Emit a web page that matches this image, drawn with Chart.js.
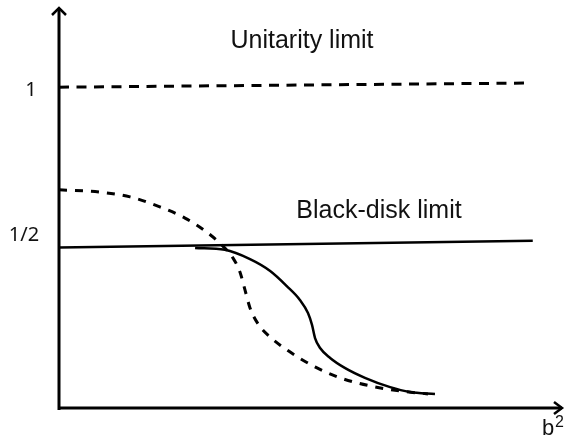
<!DOCTYPE html>
<html>
<head>
<meta charset="utf-8">
<script src="https://cdn.jsdelivr.net/npm/chart.js@4"></script>
<style>
  html, body { margin: 0; padding: 0; background: #fff; }
  #wrap { width: 566px; height: 438px; position: relative; }
</style>
</head>
<body>
<div id="wrap"><canvas id="limitChart"></canvas></div>
<script>
// 축 범위 (b^2 임의 단위, 진폭)
const xMax = 10;
const yMax = 1.25;

// 유니타리티 한계 (점선, y = 1)
const unitarityX = [0, 9.31];
const unitarityY = [1.0, 1.013];

// 블랙디스크 한계 (실선, y = 1/2)
const blackDiskX = [0, 9.40];
const blackDiskY = [0.5, 0.521];

// 점선 곡선
const dashedCurveX = [0, 0.81, 1.41, 2.00, 2.50, 2.90, 3.23, 3.45, 3.59, 3.69, 3.79, 3.95, 4.19, 4.58, 5.08, 5.58, 6.17, 6.77, 7.32];
const dashedCurveY = [0.680, 0.673, 0.658, 0.627, 0.592, 0.552, 0.508, 0.468, 0.424, 0.368, 0.312, 0.262, 0.221, 0.175, 0.128, 0.094, 0.069, 0.053, 0.044];

// 실선 곡선
const solidCurveX = [2.70, 3.29, 3.79, 4.19, 4.52, 4.78, 4.94, 5.02, 5.08, 5.18, 5.38, 5.67, 6.07, 6.57, 6.96, 7.46];
const solidCurveY = [0.499, 0.493, 0.464, 0.427, 0.380, 0.337, 0.296, 0.259, 0.218, 0.187, 0.156, 0.125, 0.094, 0.065, 0.050, 0.044];

// y축 눈금 라벨
const tickValues = [1, 0.5];
const tickLabels = ['1', '1/2'];

function toPoints(xs, ys) {
    return xs.map((x, i) => ({ x: x, y: ys[i] }));
}

// 축, 화살표, 텍스트 그리기
const schematicPlugin = {
    id: 'schematic',
    afterDatasetsDraw(chart) {
        const ctx = chart.ctx;
        const xs = chart.scales.x;
        const ys = chart.scales.y;
        const x0 = xs.getPixelForValue(0);
        const y0 = ys.getPixelForValue(0);
        const xEnd = xs.getPixelForValue(xMax);
        const yTop = ys.getPixelForValue(yMax);

        ctx.save();
        ctx.strokeStyle = '#000';
        ctx.lineWidth = 3;
        ctx.lineCap = 'butt';
        ctx.beginPath();
        ctx.moveTo(x0, y0 + 2);
        ctx.lineTo(x0, yTop + 1);
        ctx.moveTo(x0 - 1.5, y0);
        ctx.lineTo(xEnd - 1, y0);
        ctx.stroke();

        // 화살표
        ctx.lineWidth = 2.5;
        ctx.lineJoin = 'miter';
        ctx.beginPath();
        ctx.moveTo(x0 - 7, yTop + 8);
        ctx.lineTo(x0, yTop + 1);
        ctx.lineTo(x0 + 7, yTop + 8);
        ctx.moveTo(xEnd - 9, y0 - 6);
        ctx.lineTo(xEnd - 1, y0);
        ctx.lineTo(xEnd - 9, y0 + 6);
        ctx.stroke();

        // 텍스트
        ctx.fillStyle = '#111';
        ctx.font = '25px "Liberation Sans", Arial, sans-serif';
        ctx.textBaseline = 'alphabetic';
        ctx.textAlign = 'center';
        ctx.fillText('Unitarity limit', 302, 48);
        ctx.fillText('Black-disk limit', 379, 218);

        ctx.textAlign = 'left';
        ctx.font = '22px "Liberation Sans", Arial, sans-serif';
        ctx.fillText('b', 542, 435);
        ctx.font = '16px "Liberation Sans", Arial, sans-serif';
        ctx.fillText('2', 555, 427);

        ctx.font = '20px "Noto Sans", "DejaVu Sans", sans-serif';
        ctx.textAlign = 'center';
        ctx.fillText(tickLabels[0], 31, ys.getPixelForValue(tickValues[0]) + 9);
        ctx.fillText(tickLabels[1], 24, ys.getPixelForValue(tickValues[1]) - 7);
        ctx.restore();
    }
};

const lineStyle = { borderColor: '#000', pointRadius: 0, fill: false, showLine: true };

new Chart(document.getElementById('limitChart'), {
    type: 'scatter',
    data: {
        datasets: [
            Object.assign({ data: toPoints(unitarityX, unitarityY), borderWidth: 3, borderDash: [10, 7.5] }, lineStyle),
            Object.assign({ data: toPoints(blackDiskX, blackDiskY), borderWidth: 2.5 }, lineStyle),
            Object.assign({ data: toPoints(dashedCurveX, dashedCurveY), borderWidth: 3, borderDash: [8, 8], cubicInterpolationMode: 'monotone' }, lineStyle),
            Object.assign({ data: toPoints(solidCurveX, solidCurveY), borderWidth: 2.5, cubicInterpolationMode: 'monotone' }, lineStyle)
        ]
    },
    options: {
        responsive: true,
        maintainAspectRatio: false,
        animation: false,
        layout: { padding: { left: 59, right: 3, top: 7, bottom: 30 } },
        plugins: { legend: { display: false }, tooltip: { enabled: false } },
        scales: {
            x: { type: 'linear', min: 0, max: xMax, display: false },
            y: { type: 'linear', min: 0, max: yMax, display: false }
        }
    },
    plugins: [schematicPlugin]
});
</script>
</body>
</html>
